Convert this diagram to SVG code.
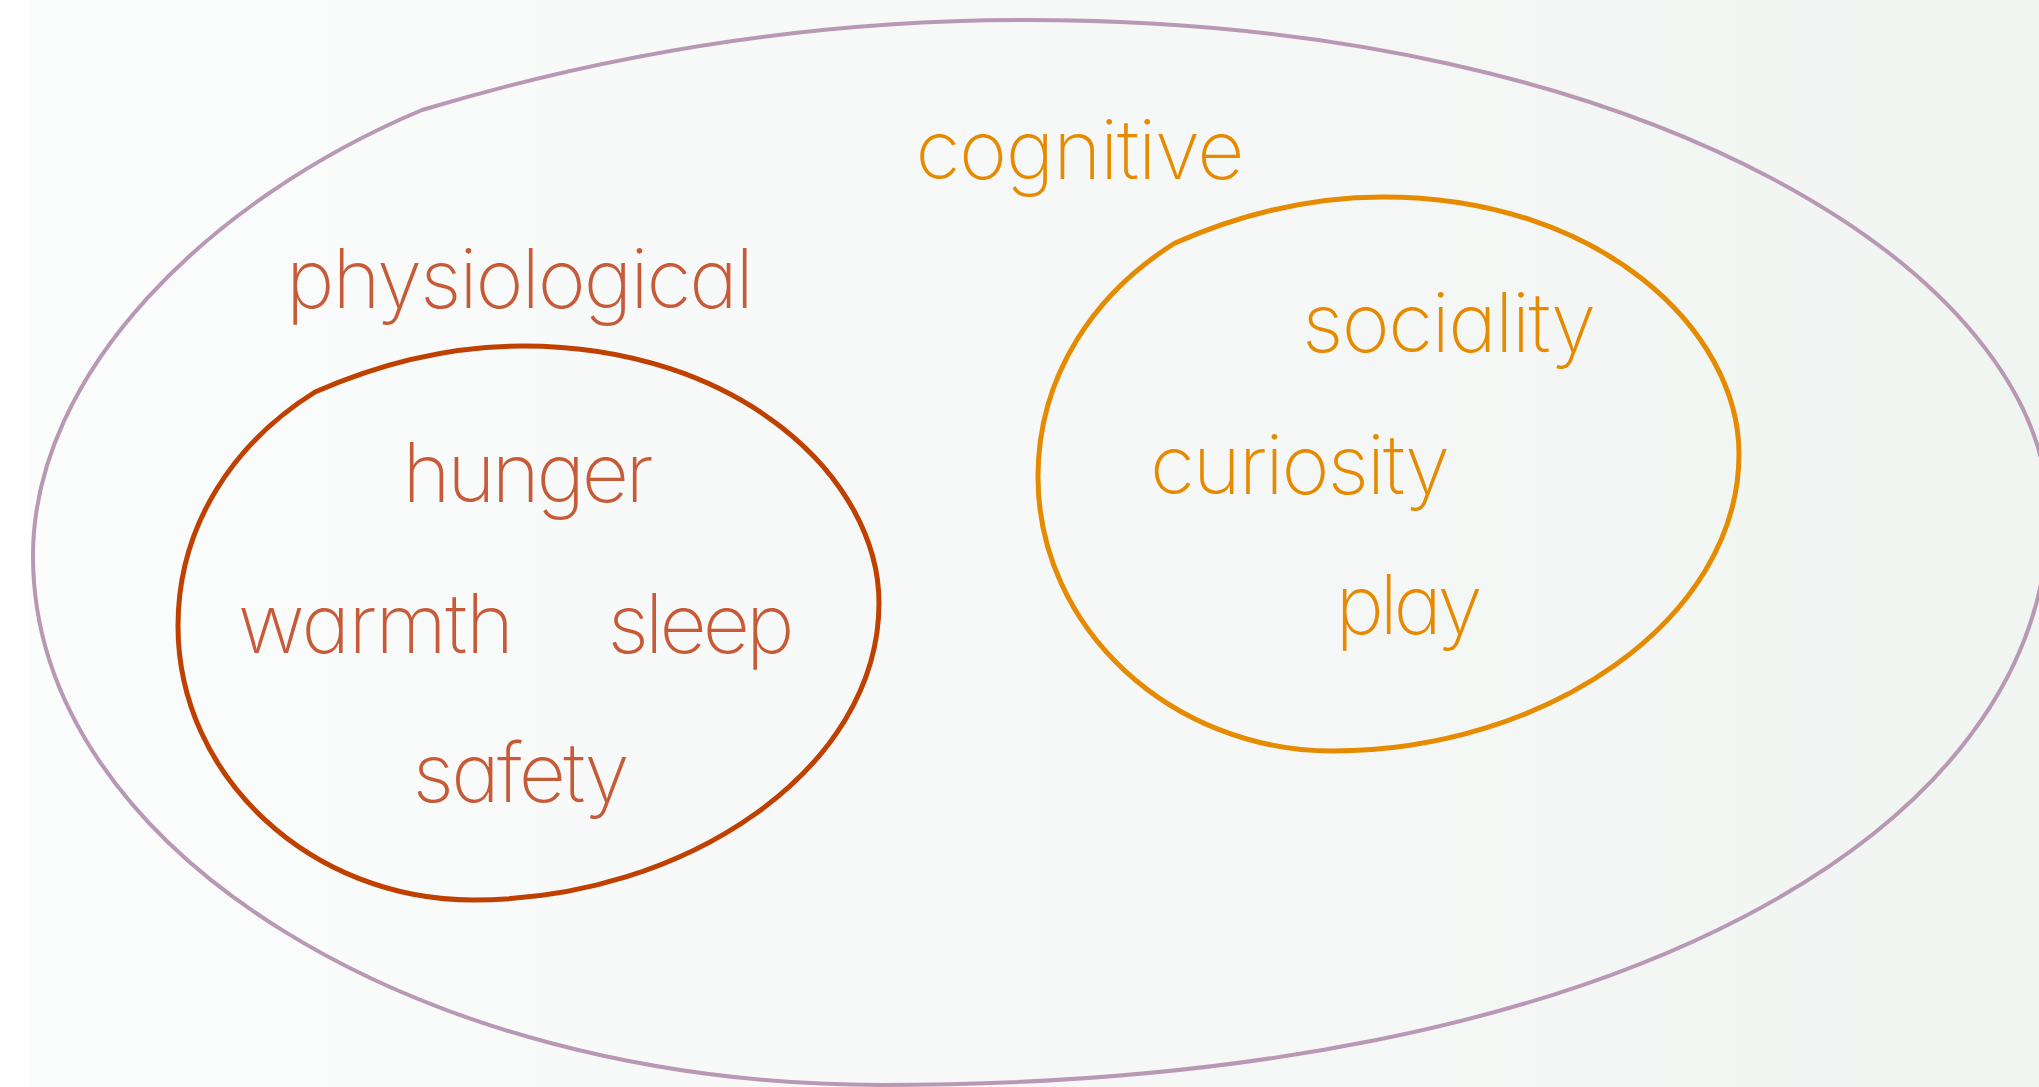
<svg xmlns="http://www.w3.org/2000/svg" width="2039" height="1087" viewBox="0 0 2039 1087">
  <defs>
    <linearGradient id="bg" x1="0" y1="0" x2="1" y2="0">
      <stop offset="0" stop-color="#fbfcfc"/>
      <stop offset="1" stop-color="#f1f5f2"/>
    </linearGradient>
    <style>
      .lbl { font-family: Inter, "Liberation Sans", sans-serif; font-weight: 200; font-size: 82px; text-anchor: middle; font-feature-settings: "cv11"; }
      .red { fill: #c75a37; }
      .org { fill: #e68a00; }
      .shape { fill: none; stroke-linejoin: round; }
      .outer { stroke: #b898b4; stroke-width: 4; }
      .redline { stroke: #c04000; stroke-width: 5; }
      .orgline { stroke: #e68a00; stroke-width: 5; }
    </style>
    <path id="blob" d="M 1175 243 C 1250 210 1320 197 1383 197 C 1600 197 1739 330 1739 454 C 1739 620 1545 751 1333 751 C 1171 751 1038 628 1038 477 C 1038 375 1095 293 1175 243 Z"/>
  </defs>
  <rect x="0" y="0" width="2039" height="1087" fill="#ffffff"/>
  <rect x="30" y="0" width="2009" height="1087" fill="url(#bg)"/>

  <g id="outer">
    <path class="shape outer" d="M 422 110 C 641 44 843 20 1026 20 C 1649 20 2048 276 2048 514 C 2048 830 1620 1085 881 1085 C 416 1085 33 849 33 556 C 33 372 210 199 422 110 Z"/>
  </g>

  <g id="physiological">
    <use href="#blob" class="shape redline" transform="translate(-860 149)"/>
    <text class="lbl red" x="520" y="308" textLength="468" lengthAdjust="spacing">physiological</text>
  </g>
  <g id="hunger"><text class="lbl red" x="528" y="502" textLength="251" lengthAdjust="spacing">hunger</text></g>
  <g id="warmth"><text class="lbl red" x="376" y="653" textLength="276" lengthAdjust="spacing">warmth</text></g>
  <g id="sleep"><text class="lbl red" x="701" y="653" textLength="187" lengthAdjust="spacing">sleep</text></g>
  <g id="safety"><text class="lbl red" x="521" y="802" textLength="217" lengthAdjust="spacing">safety</text></g>

  <g id="cognitive">
    <use href="#blob" class="shape orgline"/>
    <text class="lbl org" x="1080" y="179" textLength="329" lengthAdjust="spacing">cognitive</text>
  </g>
  <g id="sociality"><text class="lbl org" x="1449" y="352" textLength="294" lengthAdjust="spacing">sociality</text></g>
  <g id="curiosity"><text class="lbl org" x="1300" y="494" textLength="300" lengthAdjust="spacing">curiosity</text></g>
  <g id="play"><text class="lbl org" x="1409" y="634" textLength="147" lengthAdjust="spacing">play</text></g>
</svg>
